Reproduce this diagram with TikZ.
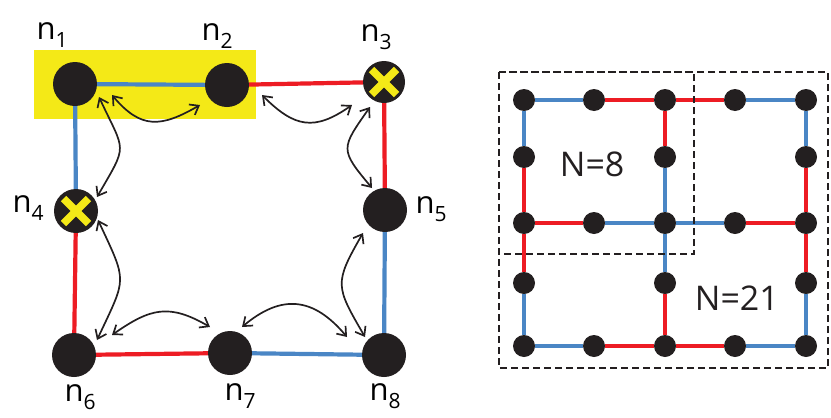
\documentclass[tikz,border=0pt]{standalone}
\usepackage{fontspec}
\setmainfont{Open Sans}
\usetikzlibrary{arrows.meta,calc}
\definecolor{myred}{HTML}{ED1C24}
\definecolor{myblue}{HTML}{4A86C5}
\definecolor{myyellow}{HTML}{F4E917}
\definecolor{nodeblack}{HTML}{231F20}
\newcommand{\lab}[1]{n\raisebox{-8pt}{\fontsize{21}{21}\selectfont #1}}
\begin{document}
\begin{tikzpicture}[x=1pt,y=1pt,
  bignode/.style={circle,fill=nodeblack,minimum size=44pt,inner sep=0pt},
  smallnode/.style={circle,fill=nodeblack,minimum size=22pt,inner sep=0pt},
  redge/.style={myred,line width=4.2pt},
  bedge/.style={myblue,line width=4.2pt},
  gred/.style={myred,line width=3.8pt},
  gblue/.style={myblue,line width=3.8pt},
  lbl/.style={anchor=base west,inner sep=0pt,font=\fontsize{31}{31}\selectfont},
  biglbl/.style={anchor=base west,inner sep=0pt,font=\fontsize{34}{34}\selectfont,text=nodeblack},
  dbl/.style={{Straight Barb[length=8pt,width=12pt]}-{Straight Barb[length=8pt,width=12pt]},line width=1.7pt,nodeblack},
  xmark/.style={myyellow,line width=7.5pt},
  dashbox/.style={nodeblack,line width=2.8pt,dash pattern=on 7pt off 4pt}]
\useasboundingbox (0,0) rectangle (831,-418);
% highlight
\fill[myyellow] (34,-50) rectangle (256,-119);
% left nodes
\node[bignode] (n1) at (75,-84) {};
\node[bignode] (n2) at (227,-85) {};
\node[bignode,minimum size=42pt] (n3) at (384,-82) {};
\node[bignode] (n4) at (76,-211) {};
\node[bignode] (n5) at (385,-210) {};
\node[bignode] (n6) at (74,-355) {};
\node[bignode] (n7) at (230,-353) {};
\node[bignode] (n8) at (384,-355) {};
% edges
\draw[bedge] (n1) -- (n2);
\draw[redge] (n2) -- (n3);
\draw[bedge] (n1) -- (n4);
\draw[redge] (n4) -- (n6);
\draw[redge] (n3) -- (n5);
\draw[bedge] (n5) -- (n8);
\draw[redge] (n6) -- (n7);
\draw[bedge] (n7) -- (n8);
% crosses
\draw[xmark] ($(n3)+(-12.5,12.5)$) -- ($(n3)+(12.5,-12.5)$);
\draw[xmark] ($(n3)+(-12.5,-12.5)$) -- ($(n3)+(12.5,12.5)$);
\draw[xmark] ($(n4)+(-12.5,12.5)$) -- ($(n4)+(12.5,-12.5)$);
\draw[xmark] ($(n4)+(-12.5,-12.5)$) -- ($(n4)+(12.5,12.5)$);
% labels
\node[lbl] (l1) at (36.4,-39) {\lab{1}};
\node[lbl] (l2) at (201.4,-40) {\lab{2}};
\node[lbl] (l3) at (360.4,-41) {\lab{3}};
\node[lbl] (l4) at (12.4,-212) {\lab{4}};
\node[lbl] (l5) at (415.4,-213) {\lab{5}};
\node[lbl] (l6) at (64.4,-401) {\lab{6}};
\node[lbl] (l7) at (224.4,-400) {\lab{7}};
\node[lbl] (l8) at (369.4,-400) {\lab{8}};
% curved double arrows
\draw[dbl] ($(n1)+(37,-11)$) to[out=-50,in=-150,looseness=1.3] ($(n2)+(-27,-20)$);
\draw[dbl] ($(n2)+(35,-10)$) to[out=-45,in=-145,looseness=1.3] ($(n3)+(-32,-23)$);
\draw[dbl] ($(n3)+(-14,-25)$) to[out=-125,in=130,looseness=1.6] ($(n5)+(-13,22)$);
\draw[dbl] ($(n1)+(24,-13)$) to[out=-65,in=60,looseness=1.6] ($(n4)+(21,14)$);
\draw[dbl] ($(n4)+(22,-9)$) to[out=-65,in=65,looseness=1.5] ($(n6)+(23,15)$);
\draw[dbl] ($(n6)+(38,20)$) to[out=35,in=150,looseness=1.23] ($(n7)+(-20,26)$);
\draw[dbl] ($(n7)+(12,26)$) to[out=40,in=130,looseness=1.26] ($(n8)+(-37,18)$);
\draw[dbl] ($(n5)+(-22,-23)$) to[out=-120,in=120,looseness=1.44] ($(n8)+(-19,18)$);
% grid nodes
\foreach \c/\x in {0/524,1/594,2/665,3/735,4/806}{
  \node[smallnode] (g0\c) at (\x,-100) {};
  \node[smallnode] (g2\c) at (\x,-223) {};
  \node[smallnode] (g4\c) at (\x,-346) {};
}
\foreach \c/\x in {0/524,2/665,4/806}{
  \node[smallnode] (g1\c) at (\x,-157) {};
  \node[smallnode] (g3\c) at (\x,-283) {};
}
% grid edges
\draw[gblue] (g00) -- (g01);
\draw[gred] (g01) -- (g02);
\draw[gred] (g02) -- (g03);
\draw[gblue] (g03) -- (g04);
\draw[gred] (g20) -- (g21);
\draw[gblue] (g21) -- (g22);
\draw[gblue] (g22) -- (g23);
\draw[gred] (g23) -- (g24);
\draw[gblue] (g40) -- (g41);
\draw[gred] (g41) -- (g42);
\draw[gred] (g42) -- (g43);
\draw[gblue] (g43) -- (g44);
\draw[gblue] (g00) -- (g10);
\draw[gred] (g10) -- (g20);
\draw[gred] (g20) -- (g30);
\draw[gblue] (g30) -- (g40);
\draw[gred] (g02) -- (g12);
\draw[gblue] (g12) -- (g22);
\draw[gblue] (g22) -- (g32);
\draw[gred] (g32) -- (g42);
\draw[gblue] (g04) -- (g14);
\draw[gred] (g14) -- (g24);
\draw[gred] (g24) -- (g34);
\draw[gblue] (g34) -- (g44);
% dashed regions
\draw[dashbox] (499,-72) rectangle (828,-368);
\draw[dashbox] (499,-72) rectangle (694,-254);
\node[biglbl] (t8) at (559.7,-176) {N=8};
\node[biglbl] (t21) at (694.7,-310) {N=21};
\end{tikzpicture}
\end{document}
